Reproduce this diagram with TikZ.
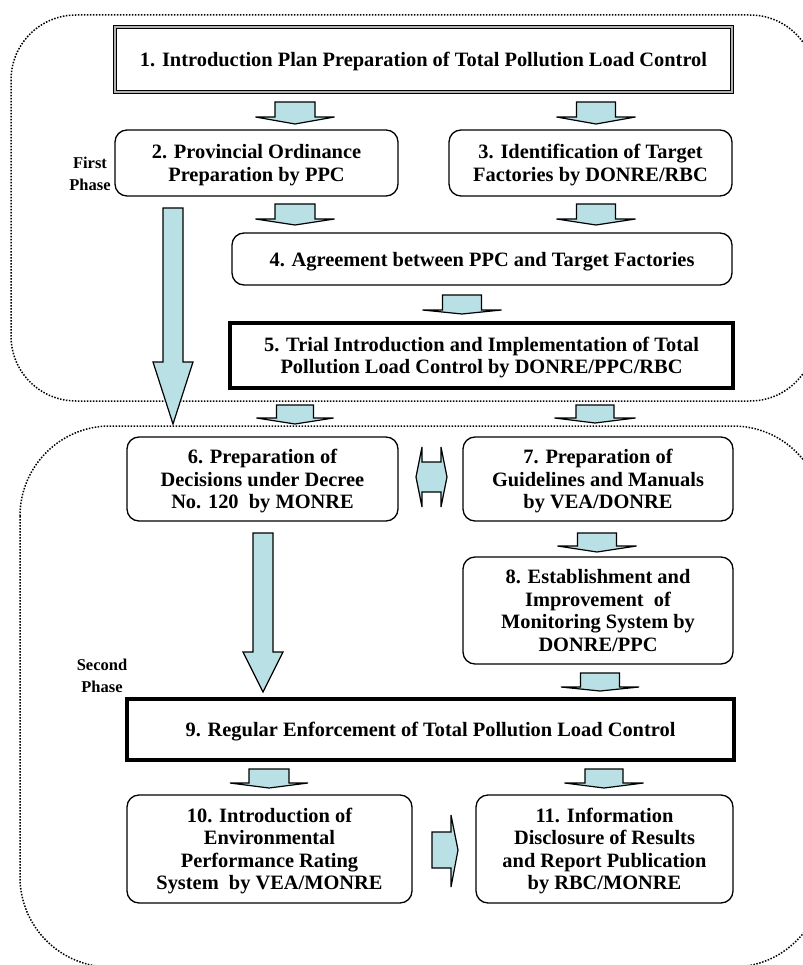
\documentclass[tikz,border=0pt]{standalone}
\usepackage{fontspec}
\setmainfont{Liberation Serif}
\begin{document}
\definecolor{arrowfill}{RGB}{185,224,228}
\newcommand\boxfont{\fontsize{20.4}{22.5}\selectfont\bfseries}
\newcommand\phasefont{\fontsize{16.5}{22}\selectfont\bfseries}
% vertical block arrow: centre x, top, head line, tip, shaft half-width, head half-width
\newcommand\dnblock[6]{%
  \draw[blockarrow] ({#1-#5},#2) -- ({#1+#5},#2) -- ({#1+#5},#3) -- ({#1+#6},#3)
    -- (#1,#4) -- ({#1-#6},#3) -- ({#1-#5},#3) -- cycle;}
\begin{tikzpicture}[x=1pt,y=-1pt,
  boxtext/.style={align=center, inner sep=0pt, outer sep=0pt, font=\boxfont,
    text depth=0pt},
  rbox/.style={boxtext, draw, line width=1.3pt, rounded corners=12pt},
  tbox/.style={boxtext, draw, line width=3.5pt},
  dbox/.style={boxtext, draw, double=gray!60, double distance=1.2pt, line width=1.1pt},
  phase/.style={align=center, inner sep=0pt, font=\phasefont},
  region/.style={line width=1.5pt, dash pattern=on 1.5pt off 1.5pt},
  blockarrow/.style={draw=black, fill=arrowfill, line width=1.2pt, line join=miter}]
\useasboundingbox (0,0) rectangle (802,965);

% phase regions
\draw[region, rounded corners=65pt] (11,15) rectangle (815,401);
\draw[region, rounded corners=90pt] (20,426) rectangle (823,967);

% phase labels
\node[phase] (p1) at (90,174) {First\\Phase};
\node[phase] (p2) at (102,676) {Second\\Phase};

% steps
\node[dbox, minimum width=617pt, minimum height=65pt] (b1) at (423.5,59.5)
  {1. Introduction Plan Preparation of Total Pollution Load Control};
\node[rbox, minimum width=283pt, minimum height=66pt] (b2) at (256.5,163)
  {2. Provincial Ordinance\\Preparation by PPC};
\node[rbox, minimum width=283pt, minimum height=66pt] (b3) at (590.5,163)
  {3. Identification of Target\\Factories by DONRE/RBC};
\node[rbox, minimum width=500pt, minimum height=52pt] (b4) at (482,259)
  {4. Agreement between PPC and Target Factories};
\node[tbox, minimum width=503pt, minimum height=65pt] (b5) at (481.5,355.5)
  {5. Trial Introduction and Implementation of Total\\Pollution Load Control by DONRE/PPC/RBC};
\node[rbox, minimum width=271pt, minimum height=84pt] (b6) at (262.5,479)
  {6. Preparation of\\Decisions under Decree\\No. 120\ \ by MONRE};
\node[rbox, minimum width=270pt, minimum height=84pt] (b7) at (598,479)
  {7. Preparation of\\Guidelines and Manuals\\by VEA/DONRE};
\node[rbox, minimum width=270pt, minimum height=107pt] (b8) at (598,610.5)
  {8. Establishment and\\Improvement\ \ of\\Monitoring System by\\DONRE/PPC};
\node[tbox, minimum width=607pt, minimum height=61pt] (b9) at (430.5,729.5)
  {9. Regular Enforcement of Total Pollution Load Control};
\node[rbox, minimum width=285pt, minimum height=108pt] (b10) at (269.5,849)
  {10. Introduction of\\Environmental\\Performance Rating\\System\ \ by VEA/MONRE};
\node[rbox, minimum width=257pt, minimum height=108pt] (b11) at (604.5,849)
  {11. Information\\Disclosure of Results\\and Report Publication\\by RBC/MONRE};

% block arrows between steps
\dnblock{295}{102}{117}{124}{20}{39.5}   % 1 -> 2
\dnblock{596}{102}{117}{124}{19.5}{39.5} % 1 -> 3
\dnblock{295}{204}{219}{225}{20}{39.5}   % 2 -> 4
\dnblock{596}{204}{219}{225}{19.5}{39.5} % 3 -> 4
\dnblock{462}{295}{310}{314}{19.5}{39.5} % 4 -> 5
\dnblock{173}{208}{362}{424}{10}{20}     % 2 -> second phase
\dnblock{295}{405}{418}{424}{18.5}{38.5} % 5 -> 6
\dnblock{595}{405}{418}{423}{19}{40.5}   % 5 -> 7
\dnblock{263}{533}{652}{692}{10}{20}     % 6 -> 9
\dnblock{597}{533}{546}{552}{19.5}{39.5} % 7 -> 8
\dnblock{600}{673}{687}{691}{19.5}{39}   % 8 -> 9
\dnblock{269}{769}{783}{788}{20}{39}     % 9 -> 10
\dnblock{604}{769}{783}{788}{19}{39.5}   % 9 -> 11

% 6 <-> 7
\draw[blockarrow] (416,477) -- (422,447) -- (422,462) -- (441,462) -- (441,447)
  -- (447,477) -- (441,507) -- (441,492) -- (422,492) -- (422,507) -- cycle;
% 10 -> 11
\draw[blockarrow] (432,832) -- (451,832) -- (451,815) -- (458,850) -- (451,887)
  -- (451,868) -- (432,868) -- cycle;
\end{tikzpicture}
\end{document}
